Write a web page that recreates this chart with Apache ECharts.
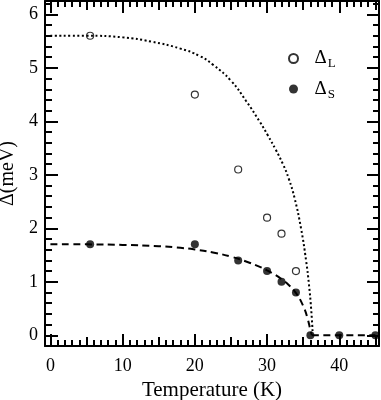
<!DOCTYPE html>
<html>
<head>
<meta charset="utf-8">
<script src="https://cdn.jsdelivr.net/npm/echarts@6/dist/echarts.min.js"></script>
<style>
  html, body { margin: 0; padding: 0; background: #fff; }
  #chart { width: 381px; height: 400px; }
</style>
</head>
<body>
<div id="chart"></div>
<script>
// measured gaps (meV) vs temperature (K)
const tempL = [5.5, 20, 26, 30, 32, 34];
const gapL = [5.6, 4.5, 3.1, 2.2, 1.9, 1.2];
const tempS = [5.5, 20, 26, 30, 32, 34, 36, 40, 45];
const gapS = [1.7, 1.7, 1.4, 1.2, 1.0, 0.8, 0, 0, 0];

// fitted curves
const fitTempL = [0, 5, 10, 14, 18, 20.7, 22.5, 25, 27.1, 29, 30.1, 31.2, 32.2, 33, 33.8, 34.7, 35.4, 35.8, 36.1, 36.3];
const fitGapL = [5.6, 5.6, 5.57, 5.49, 5.36, 5.22, 5.06, 4.76, 4.38, 3.99, 3.74, 3.47, 3.2, 2.93, 2.57, 2.0, 1.4, 0.95, 0.5, 0.08];
const fitTempS = [0, 5, 10, 15, 18, 20, 22.5, 25, 27, 29, 30, 31, 32, 33, 34, 35, 35.6, 36, 36.2];
const fitGapS = [1.7, 1.7, 1.69, 1.665, 1.635, 1.605, 1.55, 1.47, 1.385, 1.28, 1.215, 1.14, 1.05, 0.94, 0.79, 0.55, 0.32, 0.1, 0];
const flatTemp = [36.2, 40, 45];
const flatGap = [0, 0, 0];

// tick labels
const xLabels = [0, 10, 20, 30, 40];
const yLabels = [0, 1, 2, 3, 4, 5, 6];

const font = 'Liberation Serif';
const ink = '#000';
const xMin = -0.75, xMax = 45.5;
const yMin = -0.2, yMax = 6.25;

// plot frame in pixels; tick grids start exactly at T=0 and Δ=0
const frame = { left: 45, right: 2, top: 1, bottom: 54 };
const pxPerK = (381 - frame.left - frame.right) / (xMax - xMin);
const pxPerMeV = (400 - frame.top - frame.bottom) / (yMax - yMin);

function line(show) {
  return { show: show, onZero: false, lineStyle: { color: ink, width: 2 } };
}
function tickAxis(grid, pos, min, max, interval, len) {
  return {
    type: 'value', gridIndex: grid, position: pos, min: min, max: max, interval: interval,
    axisLine: line(false),
    axisTick: { show: true, inside: true, length: len, lineStyle: { color: ink, width: 2 } },
    axisLabel: { show: false }, splitLine: { show: false }
  };
}
function hidden(grid) {
  return { type: 'value', gridIndex: grid, show: false, min: 0, max: 1 };
}

const chart = echarts.init(document.getElementById('chart'));
chart.setOption({
  animation: false,
  grid: [
    Object.assign({ outerBoundsMode: 'none' }, frame),
    { outerBoundsMode: 'none', left: frame.left - xMin * pxPerK, right: frame.right, top: frame.top, bottom: frame.bottom },
    { outerBoundsMode: 'none', left: frame.left, right: frame.right, top: frame.top, bottom: frame.bottom - yMin * pxPerMeV }
  ],
  xAxis: [
    {
      type: 'value', gridIndex: 0, position: 'bottom', min: xMin, max: xMax,
      axisLine: line(true), axisTick: { show: false }, splitLine: { show: false },
      axisLabel: { customValues: xLabels, fontSize: 18, fontFamily: font, color: ink, margin: 11 },
      name: 'Temperature (K)', nameLocation: 'middle', nameGap: 33,
      nameTextStyle: { fontSize: 21, fontFamily: font, color: ink }
    },
    {
      type: 'value', gridIndex: 0, position: 'top', min: xMin, max: xMax,
      axisLine: line(true), axisTick: { show: false }, axisLabel: { show: false }, splitLine: { show: false }
    },
    tickAxis(1, 'bottom', 0, xMax, 10, 12),
    tickAxis(1, 'bottom', 0, xMax, 5, 9),
    tickAxis(1, 'bottom', 0, xMax, 1, 6),
    tickAxis(1, 'top', 0, xMax, 10, 12),
    tickAxis(1, 'top', 0, xMax, 5, 9),
    tickAxis(1, 'top', 0, xMax, 1, 6),
    hidden(2)
  ],
  yAxis: [
    {
      type: 'value', gridIndex: 0, position: 'left', min: yMin, max: yMax,
      axisLine: line(true), axisTick: { show: false }, splitLine: { show: false },
      axisLabel: { customValues: yLabels, fontSize: 18, fontFamily: font, color: ink, margin: 7 },
      name: 'Δ(meV)', nameLocation: 'middle', nameGap: 18,
      nameTextStyle: { fontSize: 20, fontFamily: font, color: ink }
    },
    {
      type: 'value', gridIndex: 0, position: 'right', min: yMin, max: yMax,
      axisLine: line(true), axisTick: { show: false }, axisLabel: { show: false }, splitLine: { show: false }
    },
    hidden(1),
    tickAxis(2, 'left', 0, yMax, 1, 13),
    tickAxis(2, 'left', 0, yMax, 0.2, 7),
    tickAxis(2, 'right', 0, yMax, 1, 12),
    tickAxis(2, 'right', 0, yMax, 0.2, 6)
  ],
  legend: {
    orient: 'vertical',
    left: 283, top: 44,
    itemWidth: 32, itemHeight: 9, itemGap: 9,
    data: ['ΔL', 'ΔS'],
    formatter: (name) => '{d|Δ}{s|' + name.slice(1) + '}',
    textStyle: {
      rich: {
        d: { fontSize: 19, fontFamily: font, color: ink },
        s: { fontSize: 13, fontFamily: font, color: ink, padding: [11, 0, 0, 1] }
      }
    }
  },
  series: [
    {
      type: 'line', data: fitTempL.map((t, i) => [t, fitGapL[i]]),
      smooth: true, showSymbol: false, silent: true,
      lineStyle: { color: ink, width: 2, type: [2, 2.5] }
    },
    {
      type: 'line', data: fitTempS.map((t, i) => [t, fitGapS[i]]),
      smooth: true, showSymbol: false, silent: true,
      lineStyle: { color: ink, width: 2, type: [7, 4.5] }
    },
    {
      type: 'line', data: flatTemp.map((t, i) => [t, flatGap[i]]),
      showSymbol: false, silent: true,
      lineStyle: { color: ink, width: 2, type: [7, 4.5] }
    },
    {
      name: 'ΔL', type: 'scatter', data: tempL.map((t, i) => [t, gapL[i]]),
      symbol: 'circle', symbolSize: 7,
      itemStyle: { color: '#fff', borderColor: ink, borderWidth: 1.2 }
    },
    {
      name: 'ΔS', type: 'scatter', data: tempS.map((t, i) => [t, gapS[i]]),
      symbol: 'circle', symbolSize: 8,
      itemStyle: { color: ink }
    }
  ]
});
</script>
</body>
</html>
